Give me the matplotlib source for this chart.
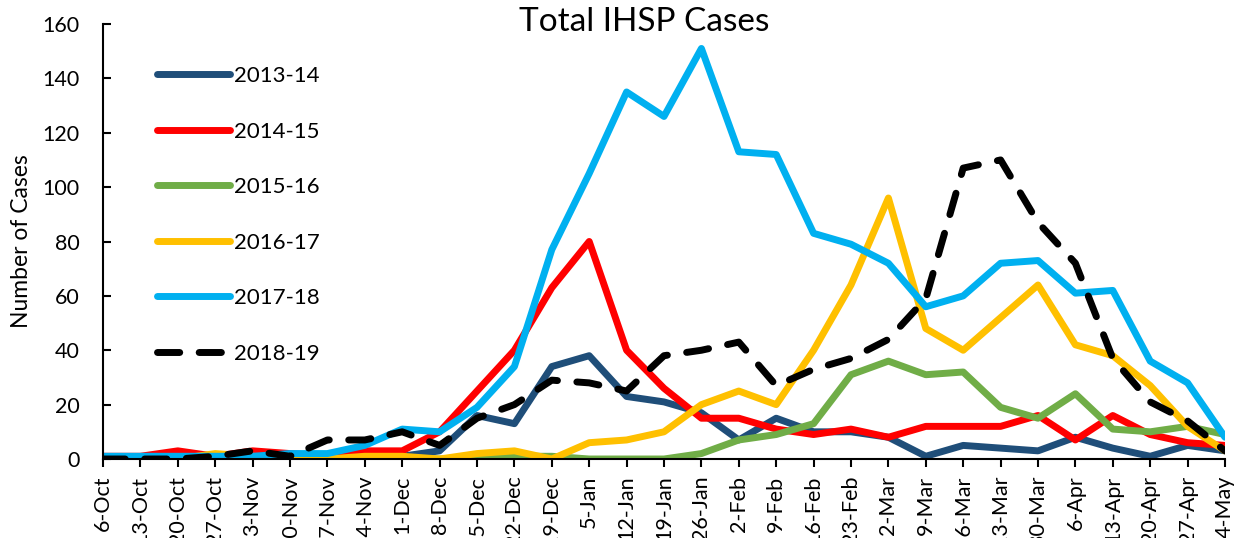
import matplotlib
matplotlib.use('Agg')
import matplotlib.pyplot as plt

plt.rcParams['font.family'] = ['Lato', 'DejaVu Sans']

weeks = ['6-Oct', '13-Oct', '20-Oct', '27-Oct', '3-Nov', '10-Nov', '17-Nov', '24-Nov',
         '1-Dec', '8-Dec', '15-Dec', '22-Dec', '29-Dec', '5-Jan', '12-Jan', '19-Jan',
         '26-Jan', '2-Feb', '9-Feb', '16-Feb', '23-Feb', '2-Mar', '9-Mar', '16-Mar',
         '23-Mar', '30-Mar', '6-Apr', '13-Apr', '20-Apr', '27-Apr', '4-May']

s2013_14 = [0, 0, 0, 0, 0, 0, 0, 0, 1, 3, 16, 13, 34, 38, 23, 21,
            17, 7, 15, 10, 10, 8, 1, 5, 4, 3, 8, 4, 1, 5, 3]
s2014_15 = [1, 1, 3, 1, 3, 2, 1, 3, 3, 10, 25, 40, 63, 80, 40, 26,
            15, 15, 11, 9, 11, 8, 12, 12, 12, 16, 7, 16, 9, 6, 5]
s2015_16 = [0, 0, 0, 0, 0, 0, 0, 0, 0, 0, 0, 1, 1, 0, 0, 0,
            2, 7, 9, 13, 31, 36, 31, 32, 19, 15, 24, 11, 10, 12, 9]
s2016_17 = [0, 0, 0, 2, 1, 0, 0, 1, 1, 0, 2, 3, 0, 6, 7, 10,
            20, 25, 20, 40, 64, 96, 48, 40, 52, 64, 42, 38, 27, 12, 3]
s2017_18 = [1, 1, 1, 1, 1, 2, 2, 5, 11, 10, 19, 34, 77, 105, 135, 126,
            151, 113, 112, 83, 79, 72, 56, 60, 72, 73, 61, 62, 36, 28, 8]
s2018_19 = [0, 0, 0, 1, 3, 1, 7, 7, 10, 5, 15, 20, 29, 28, 25, 38,
            40, 43, 27, 33, 37, 44, 59, 107, 110, 87, 72, 37, 21, 14, 3]

series = [
    ('2013-14', s2013_14, '#1F4E79', '-'),
    ('2014-15', s2014_15, '#FF0000', '-'),
    ('2015-16', s2015_16, '#70AD47', '-'),
    ('2016-17', s2016_17, '#FFC000', '-'),
    ('2017-18', s2017_18, '#00B0F0', '-'),
    ('2018-19', s2018_19, '#000000', '--'),
]

fig = plt.figure(figsize=(12.35, 5.38), dpi=100)
ax = fig.add_axes([103 / 1235, 1 - 459 / 538, 1122 / 1235, 435 / 538])

x = list(range(len(weeks)))
for label, vals, color, ls in series:
    line, = ax.plot(x, vals, color=color, lw=5, ls=ls, label=label,
                    solid_joinstyle='round', solid_capstyle='round',
                    dash_capstyle='round', dash_joinstyle='round')
    if ls == '--':
        line.set_dashes((3.2, 2.8))

ax.set_xlim(0, len(weeks) - 1)
ax.set_ylim(0, 160)
ax.set_yticks(range(0, 161, 20))
ax.set_xticks(x)
ax.set_xticklabels(weeks, rotation=90, fontsize=15.5)
ax.tick_params(axis='y', direction='in', length=6, width=1.5, pad=17, labelsize=15.5)
ax.tick_params(axis='x', direction='out', length=6, width=1.5, pad=6)

for side in ['top', 'right']:
    ax.spines[side].set_visible(False)
for side in ['left', 'bottom']:
    ax.spines[side].set_linewidth(1.5)

fig.text(644 / 1235, 1 - 22 / 538, 'Total IHSP Cases', ha='center', va='center', fontsize=24)
fig.text(22 / 1235, 1 - 241 / 538, 'Number of Cases', ha='center', va='center',
         rotation=90, fontsize=16.5)

ax.legend(loc='upper left', bbox_to_anchor=(157 / 1235, 1 - 66 / 538),
          bbox_transform=fig.transFigure, frameon=False, borderpad=0,
          borderaxespad=0, handlelength=3.3, handletextpad=0.15,
          labelspacing=1.6, fontsize=16)

fig.savefig('out.png', dpi=100)
